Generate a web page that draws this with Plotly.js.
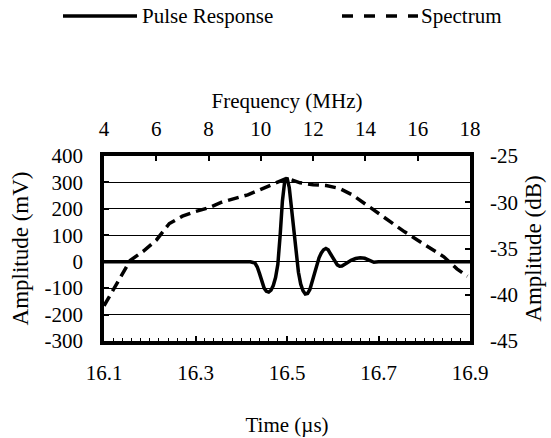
<!DOCTYPE html>
<html>
<head>
<meta charset="utf-8">
<script src="https://cdn.plot.ly/plotly-3.0.1.min.js"></script>
<style>html,body{margin:0;padding:0;background:#fff;}#chart{width:551px;height:438px;}</style>
</head>
<body>
<div id="chart"></div>
<script>
// Pulse response: time (µs) vs amplitude (mV)
var pulseTime = [16.10,16.15,16.20,16.25,16.30,16.35,16.40,16.42,16.43,16.435,16.44,16.445,16.45,16.455,16.46,16.465,16.47,16.475,16.48,16.485,16.49,16.495,16.50,16.505,16.51,16.515,16.52,16.525,16.53,16.535,16.54,16.545,16.55,16.555,16.56,16.565,16.57,16.575,16.58,16.585,16.59,16.595,16.60,16.605,16.61,16.615,16.62,16.63,16.64,16.65,16.66,16.67,16.68,16.69,16.70,16.75,16.80,16.85,16.90];
var pulseMV   = [0,0,0,0,0,0,0,0,-5,-20,-45,-75,-100,-112,-115,-108,-90,-60,-10,100,230,305,318,280,200,110,30,-40,-85,-110,-122,-120,-105,-75,-40,-10,15,33,45,50,45,30,15,0,-12,-17,-16,-6,5,12,15,13,5,-2,0,0,0,0,0];

// Spectrum: frequency (MHz) vs amplitude (dB)
var specFreq = [4.0,4.5,5.0,5.5,6.0,6.5,7.0,7.5,8.0,8.5,9.0,9.5,10.0,10.5,11.0,11.5,12.0,12.5,13.0,13.5,14.0,14.5,15.0,15.5,16.0,16.5,17.0,17.5,17.9];
var specDB   = [-41.2,-38.8,-36.3,-35.3,-34.1,-32.3,-31.5,-31.0,-30.6,-30.0,-29.6,-29.2,-28.6,-28.0,-27.4,-27.9,-28.1,-28.2,-28.5,-29.2,-30.2,-31.2,-32.3,-33.2,-34.1,-35.0,-35.9,-37.2,-38.0];

var seriesNames = ["Pulse Response", "Spectrum"];

// Tick labels
var timeTicks = [16.1, 16.3, 16.5, 16.7, 16.9];
var timeLabels = ["16.1", "16.3", "16.5", "16.7", "16.9"];
var freqTicks = [4, 6, 8, 10, 12, 14, 16, 18];
var freqLabels = ["4", "6", "8", "10", "12", "14", "16", "18"];
var mvTicks = [-300, -200, -100, 0, 100, 200, 300, 400];
var mvLabels = ["-300", "-200", "-100", "0", "100", "200", "300", "400"];
var dbTicks = [-45, -40, -35, -30, -25];
var dbLabels = ["-45", "-40", "-35", "-30", "-25"];

var FONT = "Liberation Serif";
var F = function (s) { return {family: FONT, size: s, color: "#000"}; };

var traces = [
  {x: pulseTime, y: pulseMV, name: seriesNames[0], type: "scatter", mode: "lines",
   xaxis: "x", yaxis: "y", line: {color: "#000", width: 3.5}},
  {x: specFreq, y: specDB, name: seriesNames[1], type: "scatter", mode: "lines",
   xaxis: "x2", yaxis: "y2", line: {color: "#000", width: 3.5, dash: "11px,6px"}}
];

var layout = {
  width: 551, height: 438,
  margin: {l: 104, r: 81, t: 156, b: 97, pad: 0},
  showlegend: false,
  xaxis: {
    range: [16.1, 16.9], tickmode: "array", tickvals: timeTicks, ticktext: timeLabels,
    ticks: "inside", ticklen: 5, tickwidth: 1.5, tickcolor: "#000",
    tickfont: F(21),
    minor: {dtick: 0.02, tick0: 16.1, ticks: "inside", ticklen: 3, tickwidth: 1, tickcolor: "#000", showgrid: false},
    showline: true, linewidth: 3.5, linecolor: "#000", showgrid: false, zeroline: false,
    ticklabelstandoff: 10,
    title: {text: "Time (µs)", standoff: 34, font: F(21)}
  },
  xaxis2: {
    overlaying: "x", side: "top", anchor: "y",
    range: [4, 18], tickmode: "array", tickvals: freqTicks, ticktext: freqLabels,
    ticks: "inside", ticklen: 5, tickwidth: 2, tickcolor: "#000",
    tickfont: F(21),
    showline: true, linewidth: 3.5, linecolor: "#000", showgrid: false, zeroline: false,
    ticklabelstandoff: 8,
    title: {text: "Frequency (MHz)", standoff: 3, font: F(21)}
  },
  yaxis: {
    range: [-300, 400], tickmode: "array", tickvals: mvTicks, ticktext: mvLabels,
    ticks: "inside", ticklen: 5, tickwidth: 2, tickcolor: "#000",
    tickfont: F(21),
    showline: true, linewidth: 3.5, linecolor: "#000",
    showgrid: true, gridcolor: "#000", gridwidth: 1, zeroline: false,
    ticklabelstandoff: 13,
    title: {text: "Amplitude (mV)", standoff: 10, font: F(23)}
  },
  yaxis2: {
    overlaying: "y", side: "right", anchor: "x",
    range: [-45, -25], tickmode: "array", tickvals: dbTicks, ticktext: dbLabels,
    ticks: "inside", ticklen: 5, tickwidth: 2, tickcolor: "#000",
    tickfont: F(21),
    showline: true, linewidth: 3.5, linecolor: "#000", showgrid: false, zeroline: false,
    ticklabelstandoff: 12,
    title: {text: "Amplitude (dB)", standoff: 9, font: F(23)}
  },
  shapes: [
    {type: "line", xref: "paper", yref: "paper",
     x0: (63-104)/366, x1: (137-104)/366, y0: (341-16)/185, y1: (341-16)/185,
     line: {color: "#000", width: 3.5}},
    {type: "line", xref: "paper", yref: "paper",
     x0: (342-104)/366, x1: (418-104)/366, y0: (341-16)/185, y1: (341-16)/185,
     line: {color: "#000", width: 3.5, dash: "11px,11px"}}
  ],
  annotations: [
    {text: seriesNames[0], xref: "paper", yref: "paper", x: (140-104)/366, y: (341-16)/185,
     xanchor: "left", yanchor: "middle", showarrow: false, font: F(21)},
    {text: seriesNames[1], xref: "paper", yref: "paper", x: (419-104)/366, y: (341-16)/185,
     xanchor: "left", yanchor: "middle", showarrow: false, font: F(21)}
  ]
};

Plotly.newPlot("chart", traces, layout, {displayModeBar: false});
</script>
</body>
</html>
